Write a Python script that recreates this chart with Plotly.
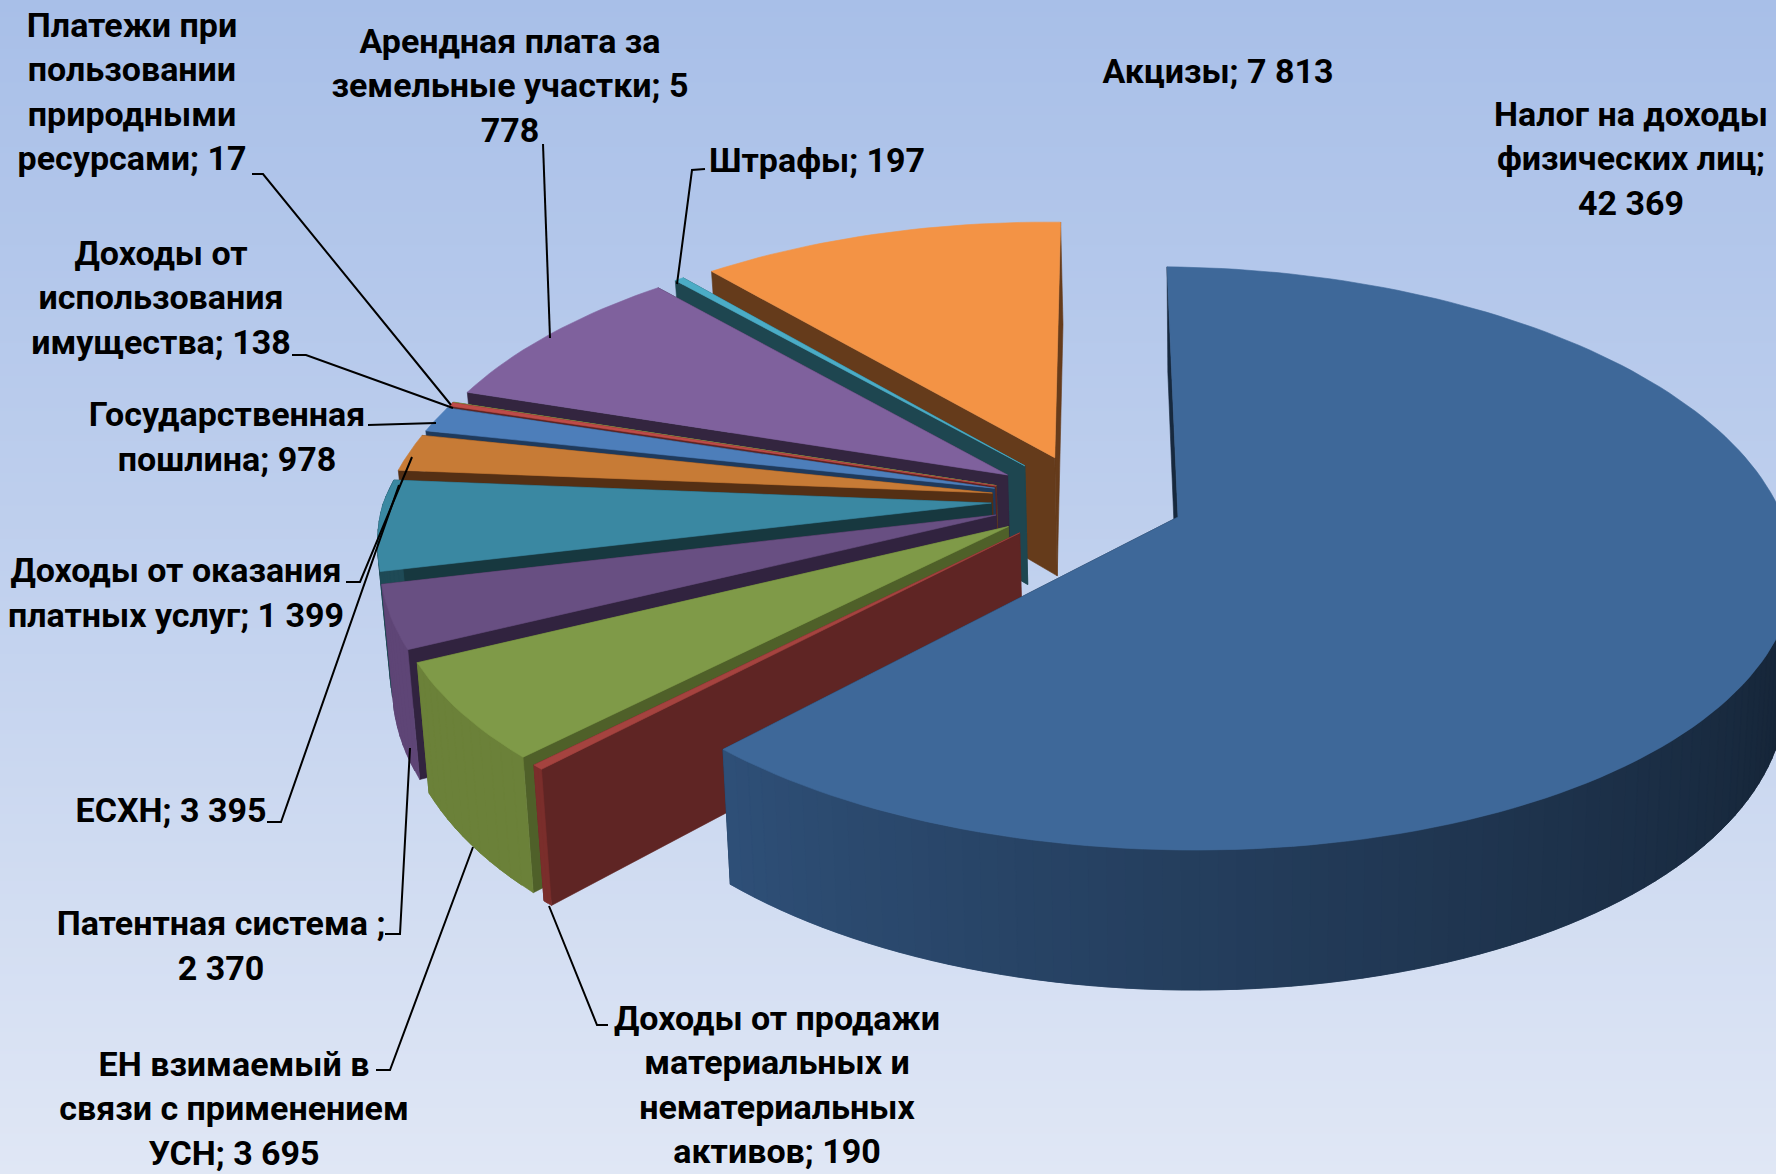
import math
import plotly.graph_objects as go

# ---------- data ----------
categories = ["Налог на доходы физических лиц", "Доходы от продажи материальных и нематериальных активов",
              "ЕН взимаемый в связи с применением УСН", "Патентная система", "ЕСХН",
              "Доходы от оказания платных услуг", "Государственная пошлина", "Доходы от использования имущества",
              "Платежи при пользовании природными ресурсами", "Арендная плата за земельные участки",
              "Штрафы", "Акцизы"]
values = [42369, 190, 3695, 2370, 3395, 1399, 978, 138, 17, 5778, 197, 7813]
label_texts = ["Налог на доходы<br>физических лиц;<br>42 369",
               "Доходы от продажи<br>материальных и<br>нематериальных<br>активов; 190",
               "ЕН взимаемый в<br>связи с применением<br>УСН; 3 695",
               "Патентная система ;<br>2 370",
               "ЕСХН; 3 395",
               "Доходы от оказания<br>платных услуг; 1 399",
               "Государственная<br>пошлина; 978",
               "Доходы от<br>использования<br>имущества; 138",
               "Платежи при<br>пользовании<br>природными<br>ресурсами; 17",
               "Арендная плата за<br>земельные участки; 5<br>778",
               "Штрафы; 197",
               "Акцизы; 7 813"]

# ---------- styles and layout ----------
top_colors = ["#3E6899", "#A5433F", "#7F9A48", "#684F82", "#3A88A2", "#C77B36",
              "#4D7EBA", "#BE4B48", "#9BBB59", "#7F619D", "#4BACC6", "#F39345"]
cut_colors = ["#17293E", "#5F2524", "#4F6029", "#31233F", "#17383F", "#542F14",
              "#1F3A5C", "#5E2322", "#4F6029", "#33253F", "#1E4650", "#653B1B"]
rim_colors = ["#2F5078", "#7A2E2B", "#6B8139", "#5E4576", "#1F4A56", "#9A5E28",
              "#3A6090", "#8E3835", "#738C42", "#5E4576", "#1F4A56", "#B56E30"]
label_pos = [(1631, 162), (777, 1088), (234, 1112), (221, 949), (171, 813), (176, 596),
             (227, 440), (161, 301), (132, 95), (510, 89), (817, 163), (1218, 74)]
leaders = [None,
           [(608, 1025), (597, 1025), (549, 906)],
           [(376, 1070), (390, 1070), (473, 847)],
           [(385, 934), (400, 934), (410, 748)],
           [(267, 822), (281, 822), (399, 485)],
           [(346, 582), (360, 582), (412, 457)],
           [(368, 425), (436, 423)],
           [(292, 355), (306, 355), (453, 408)],
           [(252, 174), (263, 174), (451, 405)],
           [(543, 144), (550, 338)],
           [(705, 169), (692, 170), (677, 284)],
           None]

CX, CY = 1178, 517      # pixel of the first slice's apex
A, B = 608, 290         # ground-plane scale
K_FAR, K_NEAR_X, K_NEAR_Y = 0.16, 0.145, 0.129   # perspective strength behind / in front of the apex
T = 122                 # slab thickness
X0, LEAN = 1223, 0.00012
SHEAR = 9               # roll of the ground plane
BOW = 2                 # small lens correction in the near-left part
ROT = -1.2              # first-slice angle, degrees
PULL = 0.16             # slice explosion


def project(x, y, down=0.0):
    wx = 1 + (K_FAR if y > 0 else K_NEAR_X) * y
    wy = 1 + (K_FAR if y > 0 else K_NEAR_Y) * y
    sx = CX + A * x / wx + BOW * x * x * min(1, max(0, -4 * y))
    sy = CY - B * y / wy + down * T / wy + SHEAR * x
    sx += (X0 - sx) * LEAN * down * T
    return sx, sy


def polygon(fig, pts, color):
    xs = [p[0] for p in pts] + [pts[0][0]]
    ys = [p[1] for p in pts] + [pts[0][1]]
    fig.add_trace(go.Scatter(x=xs, y=ys, mode="lines", fill="toself", fillcolor=color,
                             line=dict(color=color, width=0.6), hoverinfo="skip", showlegend=False))


def mix(hex_color, factor):
    r, g, b = (int(hex_color[i:i + 2], 16) for i in (1, 3, 5))
    return f"rgb({int(r * factor)},{int(g * factor)},{int(b * factor)})"


fig = go.Figure()

# background gradient
bg_y = [0, 587, 1174]
fig.add_trace(go.Heatmap(x=[0, 1776], y=bg_y, z=[[0, 0], [0.5, 0.5], [1, 1]], zsmooth="best", showscale=False,
                         colorscale=[[0, "#A8BFE8"], [0.5, "#C1D1EE"], [1, "#E0E7F5"]], hoverinfo="skip"))

# slice angles from the values
total = sum(values)
starts, ends = [], []
cum = ROT
for v in values:
    starts.append(cum)
    cum += v / total * 360
    ends.append(cum)


def direction(deg):
    r = math.radians(deg)
    return math.sin(r), math.cos(r)


first_mid = direction((starts[0] + ends[0]) / 2)
center = (-PULL * first_mid[0], -PULL * first_mid[1])

order = list(range(len(values) - 1, 0, -1)) + [0]
for i in order:
    mid = direction((starts[i] + ends[i]) / 2)
    ax = center[0] + PULL * mid[0]
    ay = center[1] + PULL * mid[1]
    n = max(2, int((ends[i] - starts[i]) / 1.5))
    angles = [starts[i] + (ends[i] - starts[i]) * j / n for j in range(n + 1)]
    rim = [(ax + direction(a)[0], ay + direction(a)[1]) for a in angles]
    # cut faces
    for edge in (rim[-1], rim[0]):
        polygon(fig, [project(ax, ay), project(*edge), project(*edge, 1), project(ax, ay, 1)], cut_colors[i])
    # rim wall: only the viewer-facing part, shaded along the arc
    for j in range(n):
        if math.cos(math.radians(angles[j])) > 0.03 and math.cos(math.radians(angles[j + 1])) > 0.03:
            continue
        if i == 0:
            f = 0.46 + 0.54 * max(0, min(1, (angles[j] - 105) / 117)) ** 1.1
        else:
            f = 1.0
        stop = min(j + 2, n)
        polygon(fig, [project(*rim[j]), project(*rim[stop]), project(*rim[stop], 1), project(*rim[j], 1)],
                mix(rim_colors[i], f))
    # top
    polygon(fig, [project(ax, ay)] + [project(*p) for p in rim], top_colors[i])

# leader lines
for path in leaders:
    if path:
        fig.add_trace(go.Scatter(x=[p[0] for p in path], y=[p[1] for p in path], mode="lines",
                                 line=dict(color="#000000", width=2), hoverinfo="skip", showlegend=False))

# labels
fig.add_trace(go.Scatter(x=[p[0] for p in label_pos], y=[p[1] for p in label_pos], mode="text",
                         text=[f"<b>{t}</b>" for t in label_texts], textposition="middle center",
                         textfont=dict(family="Roboto", size=34, color="#000000"),
                         customdata=categories, hoverinfo="skip", showlegend=False))

fig.update_layout(width=1776, height=1174, margin=dict(l=0, r=0, t=0, b=0),
                  paper_bgcolor="#C1D1EE", plot_bgcolor="#C1D1EE",
                  xaxis=dict(range=[0, 1776], visible=False, fixedrange=True),
                  yaxis=dict(range=[1174, 0], visible=False, fixedrange=True))

fig.write_html("out.html", post_script="document.body.style.margin='0';document.body.style.overflow='hidden';",
               config={"displayModeBar": False})
